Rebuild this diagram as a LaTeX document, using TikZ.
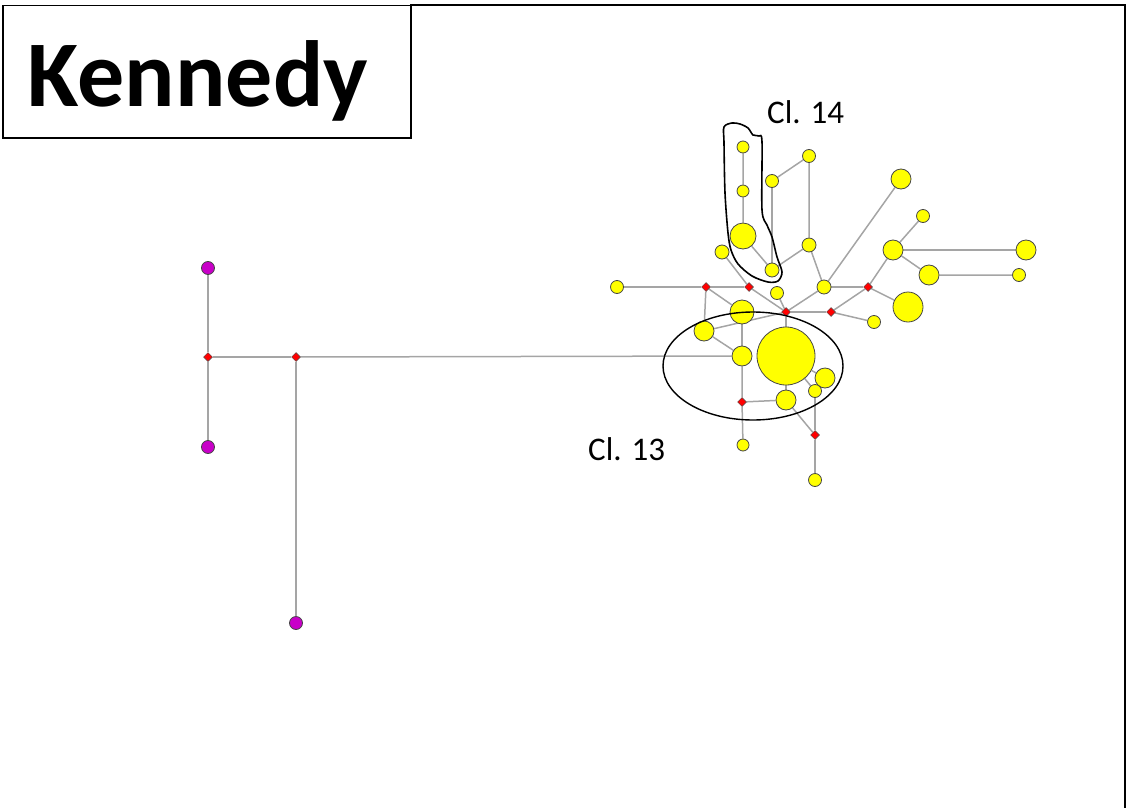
\documentclass[tikz,border=0pt]{standalone}
\usepackage{fontspec}
\setmainfont{Carlito}
\usetikzlibrary{shapes.geometric,backgrounds}
\definecolor{ylw}{RGB}{255,255,0}
\definecolor{mag}{RGB}{200,0,200}
\definecolor{edgegray}{RGB}{165,165,165}
\definecolor{outl}{RGB}{70,70,70}
\tikzset{
  hap/.style={circle, draw=outl, fill=ylw, line width=0.8pt, inner sep=0pt},
  med/.style={diamond, draw=outl, fill=red, line width=0.5pt, inner sep=0pt, minimum size=9pt},
  magn/.style={circle, draw=outl, fill=mag, line width=0.8pt, inner sep=0pt, minimum size=13pt},
  link/.style={draw=edgegray, line width=1.5pt},
  frame/.style={draw=black, line width=1.8pt},
  lbl/.style={inner sep=0pt, anchor=base west, font=\fontsize{33}{38}\selectfont},
}
\newcommand\hp[4]{\node[hap, minimum size=#4pt] (#1) at (#2,#3) {};}
\newcommand\md[3]{\node[med] (#1) at (#2,#3) {};}
\begin{document}
\begin{tikzpicture}[x=1pt,y=-1pt]
\useasboundingbox (0,0) rectangle (1129,808);
% frame
\coordinate (ftl) at (410,5);
\coordinate (ftr) at (1125,5);
\coordinate (fbr) at (1125,808);
\draw[frame] (ftl) -- (ftr) -- (fbr);
\node[draw=black, line width=1.5pt, minimum width=408pt, minimum height=132pt, inner sep=0pt, anchor=north west] (box) at (2,5) {};
\node[inner sep=0pt, anchor=base, font=\fontsize{94}{100}\selectfont\bfseries] (title) at (198,106) {Kennedy};
% haplotype nodes
\hp{y1}{743}{147}{12}
\hp{y2}{743}{191}{12}
\hp{y3}{743}{236}{26}
\hp{y4}{722}{252}{14}
\hp{y5}{772}{270}{14}
\hp{y6}{772}{181}{13}
\hp{y7}{809}{156}{13}
\hp{y8}{809}{245}{14}
\hp{y9}{824}{287}{14}
\hp{y10}{777}{293}{13}
\hp{y11}{617}{287}{13}
\hp{y12}{901}{179}{20}
\hp{y13}{923}{216}{13}
\hp{y14}{893}{250}{20}
\hp{y15}{1026}{250}{20}
\hp{y16}{929}{275}{20}
\hp{y17}{1019}{275}{13}
\hp{y18}{908}{307}{30}
\hp{y19}{874}{322}{13}
\hp{y20}{742}{312}{24}
\hp{y21}{704}{331}{20}
\hp{y22}{742}{356}{20}
\hp{y23}{786}{356}{58}
\hp{y24}{825}{378}{20}
\hp{y25}{815}{391}{13}
\hp{y26}{786}{400}{20}
\hp{y27}{743}{445}{12}
\hp{y28}{815}{480}{13}
% median vectors
\md{r1}{706}{287}
\md{r2}{749}{287}
\md{r3}{786}{312}
\md{r4}{831}{312}
\md{r5}{868}{287}
\md{r6}{742}{402}
\md{r7}{815}{435}
\md{r8}{208}{357}
\md{r9}{296}{357}
% magenta
\node[magn] (m1) at (208,268) {};
\node[magn] (m2) at (208,447) {};
\node[magn] (m3) at (296,623) {};
% links
\begin{scope}[on background layer]
\path[link] (m1) -- (r8) -- (m2);
\path[link] (r8) -- (r9) -- (m3);
\path[link] (r9) -- (y22);
\path[link] (y11) -- (r1) -- (r2);
\path[link] (r1) -- (y21);
\path[link] (r1) -- (y20);
\path[link] (r2) -- (r3);
\path[link] (y4) -- (r2);
\path[link] (y1) -- (y2) -- (y3) -- (y5);
\path[link] (y6) -- (y5);
\path[link] (y6) -- (y7) -- (y8) -- (y5);
\path[link] (y8) -- (y9);
\path[link] (y10) -- (r3);
\path[link] (r3) -- (y9);
\path[link] (r3) -- (r4);
\path[link] (r3) -- (y23);
\path[link] (r3) -- (y21);
\path[link] (y9) -- (y12);
\path[link] (y9) -- (r5);
\path[link] (r5) -- (y14);
\path[link] (r5) -- (y18);
\path[link] (r5) -- (r4);
\path[link] (r4) -- (y19);
\path[link] (y14) -- (y13);
\path[link] (y14) -- (y15);
\path[link] (y14) -- (y16) -- (y17);
\path[link] (y20) -- (y22);
\path[link] (y21) -- (y22);
\path[link] (y22) -- (r6) -- (y27);
\path[link] (r6) -- (y26);
\path[link] (y23) -- (y26);
\path[link] (y26) -- (r7);
\path[link] (r7) -- (y25);
\path[link] (r7) -- (y28);
\path[link] (y23) -- (y25);
\path[link] (y23) -- (y24);
\end{scope}
% cluster outlines
\draw[line width=1.4pt] (753,366) ellipse [x radius=90pt, y radius=54pt];
\draw[line width=1.6pt] plot[smooth cycle, tension=0.5] coordinates {
 (724,127) (732,123) (740,124) (748,128) (753,135) (759,136) (762,142)
 (762,210) (767,225) (772,237) (777,257) (782,272) (778,281) (768,282)
 (752,276) (738,264) (731,250) (728,233) (725,193) (724,143)};
% labels
\node[lbl] (c14) at (767,123) {Cl. 14};
\node[lbl] (c13) at (588,460) {Cl. 13};
\end{tikzpicture}
\end{document}
